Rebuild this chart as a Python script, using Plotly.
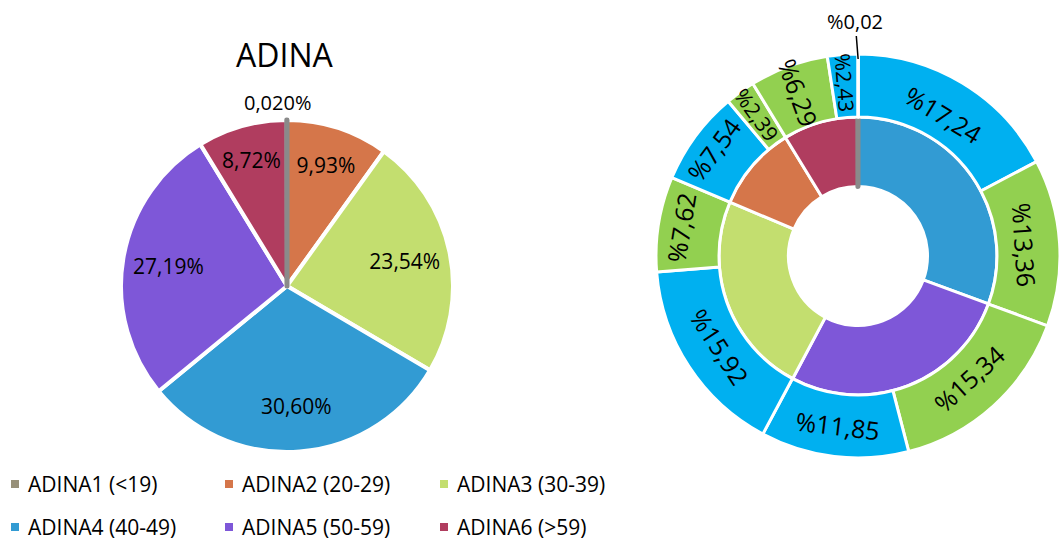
import math
import plotly.graph_objects as go

W, H = 1060, 541

# ---------------- data ----------------
categories = ["ADINA1 (<19)", "ADINA2 (20-29)", "ADINA3 (30-39)",
              "ADINA4 (40-49)", "ADINA5 (50-59)", "ADINA6 (>59)"]
share_pct = [0.020, 9.93, 23.54, 30.60, 27.19, 8.72]
share_text = ["0,020%", "9,93%", "23,54%", "30,60%", "27,19%", "8,72%"]

# outer ring of the right chart (clockwise from 12 o'clock)
outer_values = [0.02, 17.24, 13.36, 15.34, 11.85, 15.92, 7.62, 7.54, 2.39, 6.29, 2.43]
outer_text = ["%0,02", "%17,24", "%13,36", "%15,34", "%11,85", "%15,92",
              "%7,62", "%7,54", "%2,39", "%6,29", "%2,43"]
outer_group = ["A", "B", "G", "G", "B", "B", "G", "B", "G", "G", "B"]

# ---------------- styles ----------------
cat_colors = ["#8A8A8A", "#D5764A", "#C3DE6F", "#329BD3", "#7E57D8", "#B03D5F"]
legend_colors = ["#979079", "#D5764A", "#C3DE6F", "#329BD3", "#7E57D8", "#B03D5F"]
group_colors = {"A": "#7FD6F5", "B": "#00B0F0", "G": "#92D050"}
radial_font = {8: 21, 9: 25, 10: 21}      # outer labels written along the radius
FONT = "Open Sans"


def px_x(x):
    return x / W


def px_y(y):
    return 1 - y / H


fig = go.Figure()

# ---------------- left pie ----------------
left_order = [1, 2, 3, 4, 5, 0]  # gray drawn last so it stays visible on top
L_CX, L_CY, L_R = 287, 286, 166
left_domain = dict(x=[px_x(L_CX - L_R), px_x(L_CX + L_R)],
                   y=[px_y(L_CY + L_R), px_y(L_CY - L_R)])
fig.add_trace(go.Pie(
    values=[share_pct[i] for i in left_order],
    labels=[categories[i] for i in left_order],
    textinfo="none",
    marker=dict(colors=[cat_colors[i] for i in left_order],
                line=dict(color=["#8A8A8A" if i == 0 else "white" for i in left_order],
                          width=[5 if i == 0 else 4 for i in left_order])),
    sort=False, direction="clockwise", rotation=0,
    domain=left_domain,
    hoverinfo="label+percent",
))
# transparent ring carrying the percentage labels (keeps them out near the rim)
fig.add_trace(go.Pie(
    values=[share_pct[i] for i in left_order],
    labels=[categories[i] for i in left_order],
    text=["" if i == 0 else share_text[i] for i in left_order],
    textinfo="text",
    textposition="inside",
    insidetextorientation="horizontal",
    textfont=dict(family=FONT, size=21, color="black"),
    hole=0.45,
    marker=dict(colors=["rgba(0,0,0,0)"] * 6, line=dict(width=0)),
    sort=False, direction="clockwise", rotation=0,
    domain=left_domain,
    hoverinfo="skip",
))

# ---------------- right: inner ring ----------------
R_CX, R_CY = 858, 256
IN_R, OUT_R = 139, 202
inner_order = [3, 4, 2, 1, 5, 0]
fig.add_trace(go.Pie(
    values=[share_pct[i] for i in inner_order],
    labels=[categories[i] for i in inner_order],
    textinfo="none",
    hole=0.5,
    marker=dict(colors=[cat_colors[i] for i in inner_order],
                line=dict(color=["#8A8A8A" if i == 0 else "white" for i in inner_order],
                          width=[5 if i == 0 else 3 for i in inner_order])),
    sort=False, direction="clockwise", rotation=0,
    domain=dict(x=[px_x(R_CX - IN_R), px_x(R_CX + IN_R)],
                y=[px_y(R_CY + IN_R), px_y(R_CY - IN_R)]),
    hoverinfo="label+percent",
))

# ---------------- right: outer ring ----------------
outer_order = list(range(1, len(outer_values))) + [0]
OUT_HOLE = 0.688
total = sum(outer_values)
fig.add_trace(go.Pie(
    values=[outer_values[i] for i in outer_order],
    labels=[outer_text[i] for i in outer_order],
    text=[outer_text[i] if (i != 0 and i not in radial_font) else "" for i in outer_order],
    textinfo="text",
    textposition="inside",
    insidetextorientation="tangential",
    textfont=dict(family=FONT, size=25, color="black"),
    hole=OUT_HOLE,
    marker=dict(colors=[group_colors[outer_group[i]] for i in outer_order],
                line=dict(color="white", width=3)),
    sort=False, direction="clockwise",
    rotation=360 * outer_values[0] / total,
    domain=dict(x=[px_x(R_CX - OUT_R), px_x(R_CX + OUT_R)],
                y=[px_y(R_CY + OUT_R), px_y(R_CY - OUT_R)]),
    hoverinfo="label",
))

annotations = []

# radial labels of the narrow outer slices, placed at their slice mid-angles
cum = 0.0
mid_angles = []
for v in outer_values:
    mid_angles.append(360 * (cum + v / 2) / total)
    cum += v
ring_mid = OUT_R * (1 + OUT_HOLE) / 2 + 3
for i, fs in radial_font.items():
    a = math.radians(mid_angles[i])
    x = R_CX + ring_mid * math.sin(a)
    y = R_CY - ring_mid * math.cos(a)
    ang = (mid_angles[i] + 90) % 360
    if ang > 180:
        ang -= 360
    annotations.append(dict(
        x=px_x(x), y=px_y(y), xref="paper", yref="paper", text=outer_text[i],
        showarrow=False, textangle=ang,
        xanchor="center", yanchor="middle",
        font=dict(family=FONT, size=fs, color="black")))

# leader label for the tiny slice of the outer ring
a0 = math.radians(mid_angles[0])
tip_r = OUT_R - 5
annotations.append(dict(
    x=px_x(R_CX + tip_r * math.sin(a0)), y=px_y(R_CY - tip_r * math.cos(a0)),
    xref="paper", yref="paper",
    text=outer_text[0], showarrow=True, arrowhead=0, arrowwidth=1.5,
    arrowcolor="black", ax=-3, ay=-38,
    font=dict(family=FONT, size=20, color="black")))

# outside label of the tiny slice of the left pie
annotations.append(dict(
    x=px_x(L_CX - 10), y=px_y(L_CY - L_R - 17), xref="paper", yref="paper",
    text=share_text[0], showarrow=False, xanchor="center", yanchor="middle",
    font=dict(family=FONT, size=20, color="black")))

# title
annotations.append(dict(x=px_x(284), y=px_y(54), xref="paper", yref="paper", text="ADINA",
                        showarrow=False, font=dict(family=FONT, size=32, color="black"),
                        xanchor="center", yanchor="middle"))

# ---------------- legend (manual, 3 columns x 2 rows) ----------------
shapes = []
col_x = [11, 225, 440]
row_y = [484, 527]
SQ = 8
for k, name in enumerate(categories):
    cx = col_x[k % 3]
    cy = row_y[k // 3]
    shapes.append(dict(type="rect", xref="paper", yref="paper",
                       x0=px_x(cx), x1=px_x(cx + SQ),
                       y0=px_y(cy + SQ / 2), y1=px_y(cy - SQ / 2),
                       fillcolor=legend_colors[k], line=dict(width=0)))
    annotations.append(dict(x=px_x(cx + 15), y=px_y(cy), xref="paper", yref="paper",
                            text=name, showarrow=False, xanchor="left", yanchor="middle",
                            font=dict(family=FONT, size=21, color="black")))

fig.update_layout(
    width=W, height=H,
    margin=dict(l=0, r=0, t=0, b=0),
    paper_bgcolor="white", plot_bgcolor="white",
    showlegend=False,
    annotations=annotations,
    shapes=shapes,
    font=dict(family=FONT),
)

fig.write_html(
    "out.html",
    config={"displayModeBar": False},
    post_script="document.body.style.margin='0';document.body.style.overflow='hidden';",
)
